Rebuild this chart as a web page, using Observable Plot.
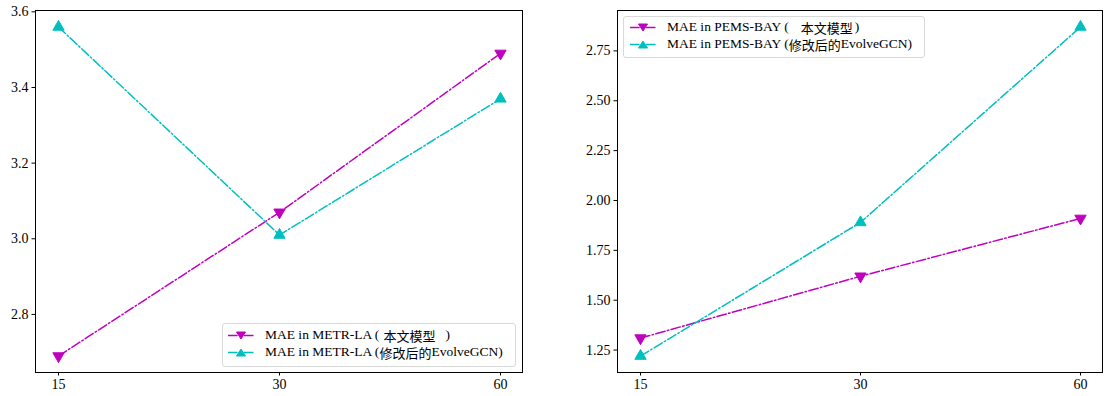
<!DOCTYPE html>
<html><head><meta charset="utf-8">
<script src="https://cdn.jsdelivr.net/npm/d3@7"></script>
<script src="https://cdn.jsdelivr.net/npm/@observablehq/plot@0.6"></script>
<style>
body{margin:0;background:#fff;}
#wrap{position:relative;width:1104px;height:396px;overflow:hidden;background:#fff;}
.panel{position:absolute;top:0;}
.legend{position:absolute;box-sizing:border-box;border:1px solid #d9d9d9;border-radius:3px;background:rgba(255,255,255,0.85);
 font-family:"Liberation Serif","Noto Sans CJK SC",serif;font-size:13.5px;color:#000;}
.row{position:absolute;left:0;height:16px;display:flex;align-items:center;white-space:nowrap;}
.row svg{margin-right:11px;}
.cjk{font-family:"Noto Sans CJK SC",sans-serif;font-size:13px;}
</style></head>
<body><div id="wrap"></div>
<script>
// ---- data ----
const horizons = ["15", "30", "60"];
const metrMine = [2.69, 3.07, 3.49];
const metrEvolve = [3.56, 3.01, 3.37];
const pemsMine = [1.31, 1.62, 1.91];
const pemsEvolve = [1.22, 1.89, 2.87];
const metrTicks = [2.8, 3.0, 3.2, 3.4, 3.6];
const pemsTicks = [1.25, 1.50, 1.75, 2.00, 2.25, 2.50, 2.75];
const metrLabels = ["MAE in METR-LA (", "本文模型", ")", "MAE in METR-LA (", "修改后的", "EvolveGCN)"];
const pemsLabels = ["MAE in PEMS-BAY (", "本文模型", ")", "MAE in PEMS-BAY (", "修改后的", "EvolveGCN)"];
const MAG = "#bf00bf", CYA = "#00bfbf";
const DASH = "9.6,2.4,1.5,2.4";
const FONT = "Liberation Serif";

function pad(lo, hi) { const m = (hi - lo) * 0.05; return [lo - m, hi + m]; }

function panel(mine, evolve, ticks, fmt, left, ml, mr) {
  const rows = d => horizons.map((h, i) => ({h, v: d[i]}));
  const all = mine.concat(evolve);
  const plot = Plot.plot({
    width: 552, height: 396,
    marginLeft: ml, marginRight: mr, marginTop: 10, marginBottom: 24,
    style: {fontFamily: FONT, fontSize: "14px", background: "#fff", color: "#000"},
    x: {type: "point", domain: horizons, padding: 0.1, label: null},
    y: {domain: pad(d3.min(all), d3.max(all)), label: null},
    marks: [
      Plot.frame({stroke: "#000", strokeWidth: 1}),
      Plot.axisY({ticks, tickFormat: fmt, tickSize: 3.5, tickPadding: 3.5, fontSize: 14, fontFamily: FONT, label: null}),
      Plot.axisX({tickSize: 3.5, tickPadding: 3, fontSize: 14, fontFamily: FONT, label: null}),
      Plot.line(rows(mine), {x: "h", y: "v", stroke: MAG, strokeWidth: 1.5, strokeDasharray: DASH}),
      Plot.dot(rows(mine), {x: "h", y: "v", symbol: "triangle", rotate: 180, r: 4.2, fill: MAG, stroke: MAG, strokeWidth: 1}),
      Plot.line(rows(evolve), {x: "h", y: "v", stroke: CYA, strokeWidth: 1.5, strokeDasharray: DASH}),
      Plot.dot(rows(evolve), {x: "h", y: "v", symbol: "triangle", r: 4.2, fill: CYA, stroke: CYA, strokeWidth: 1})
    ]
  });
  plot.classList.add("panel");
  plot.style.left = left + "px";
  document.getElementById("wrap").appendChild(plot);
}

function handle(color, down) {
  const pts = down ? "8.5,3 17.5,3 13,10" : "8.5,10 17.5,10 13,3";
  return `<svg width="26" height="13"><line x1="0" y1="6.5" x2="26" y2="6.5" stroke="${color}" stroke-width="1.5" stroke-dasharray="${DASH}"/>` +
    `<polygon points="${pts}" fill="${color}" stroke="${color}" stroke-width="1"/></svg>`;
}

function legend(labels, x, y, w, h, textX, row1, row2, gap1, gap2) {
  const div = document.createElement("div");
  div.className = "legend";
  Object.assign(div.style, {left: x + "px", top: y + "px", width: w + "px", height: h + "px"});
  const off = textX - x - 37 - 1;
  div.innerHTML =
    `<div class="row" style="top:${row1 - y - 9}px;left:${off}px">${handle(MAG, true)}<span>${labels[0]}</span><span class="cjk" style="margin-left:${gap1}px">${labels[1]}</span><span style="margin-left:${gap2}px">${labels[2]}</span></div>` +
    `<div class="row" style="top:${row2 - y - 9}px;left:${off}px">${handle(CYA, false)}<span>${labels[3]}</span><span class="cjk">${labels[4]}</span><span>${labels[5]}</span></div>`;
  document.getElementById("wrap").appendChild(div);
}

panel(metrMine, metrEvolve, metrTicks, ".1f", 0, 35, 30);
panel(pemsMine, pemsEvolve, pemsTicks, ".2f", 552, 65, 2);
legend(metrLabels, 222, 323, 294, 44, 265, 335, 352, 4, 10);
legend(pemsLabels, 623, 16, 302, 42, 667, 27, 44, 12, 2);
</script></body></html>
